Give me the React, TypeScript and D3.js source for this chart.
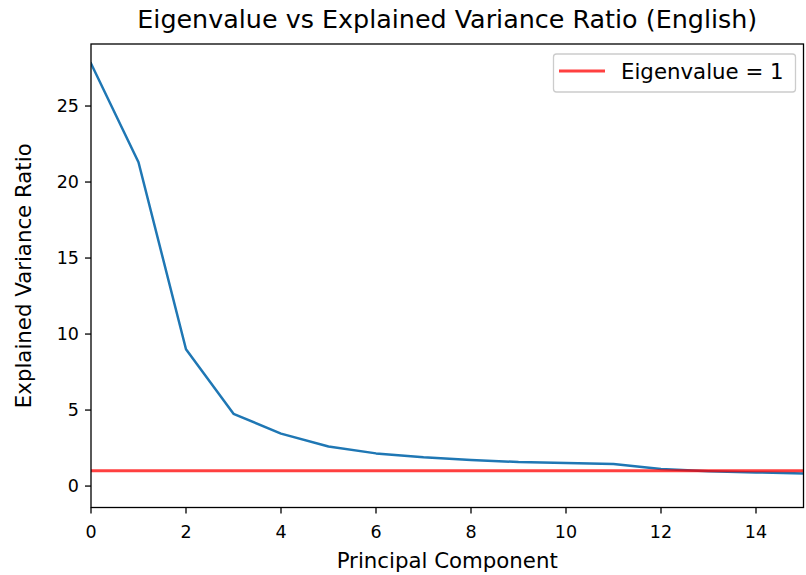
import React from "react";
import * as d3 from "d3";

const components = [0, 1, 2, 3, 4, 5, 6, 7, 8, 9, 10, 11, 12, 13, 14, 15];
const varianceRatio = [27.8, 21.3, 9.0, 4.75, 3.45, 2.6, 2.15, 1.9, 1.72, 1.58, 1.52, 1.45, 1.12, 0.98, 0.9, 0.82];
const xTicks = [0, 2, 4, 6, 8, 10, 12, 14];
const yTicks = [0, 5, 10, 15, 20, 25];
const threshold = 1;

const W = 806;
const H = 575;
const M = { left: 91, right: 806 - 803.5, top: 44, bottom: 575 - 507.5 };
const FONT = "'DejaVu Sans', sans-serif";

export default function App() {
  const x = d3.scaleLinear().domain([0, 15]).range([M.left, W - M.right]);
  const y = d3.scaleLinear().domain([-1.41, 29.08]).range([H - M.bottom, M.top]);
  const line = d3
    .line<number>()
    .x((_, i) => x(components[i]))
    .y((d) => y(d));
  const x0 = M.left;
  const x1 = W - M.right;
  const y0 = H - M.bottom;
  const y1 = M.top;
  return (
    <svg width={W} height={H} style={{ position: "absolute", left: 0, top: 0, background: "#fff" }}>
      <defs>
        <clipPath id="plot">
          <rect x={x0} y={y1} width={x1 - x0} height={y0 - y1} />
        </clipPath>
      </defs>
      <rect x={0} y={0} width={W} height={H} fill="#fff" />
      <g clipPath="url(#plot)">
        <path d={line(varianceRatio) || ""} fill="none" stroke="#1f77b4" strokeWidth={2.5} strokeLinejoin="round" strokeLinecap="square" />
        <line x1={x0} x2={x1} y1={y(threshold)} y2={y(threshold)} stroke="#ff0000" strokeOpacity={0.75} strokeWidth={3} />
      </g>
      <rect x={x0} y={y1} width={x1 - x0} height={y0 - y1} fill="none" stroke="#000" strokeWidth={1.3} />
      {xTicks.map((t) => (
        <g key={"x" + t}>
          <line x1={x(t)} x2={x(t)} y1={y0} y2={y0 + 6} stroke="#000" strokeWidth={1.3} />
          <text x={x(t)} y={538} textAnchor="middle" fontFamily={FONT} fontSize={17.5} fill="#000">
            {t}
          </text>
        </g>
      ))}
      {yTicks.map((t) => (
        <g key={"y" + t}>
          <line x1={x0 - 6} x2={x0} y1={y(t)} y2={y(t)} stroke="#000" strokeWidth={1.3} />
          <text x={x0 - 12} y={y(t)} dy="0.36em" textAnchor="end" fontFamily={FONT} fontSize={17.5} fill="#000">
            {t}
          </text>
        </g>
      ))}
      <text x={(x0 + x1) / 2} y={568} textAnchor="middle" fontFamily={FONT} fontSize={21.3} fill="#000">
        Principal Component
      </text>
      <text
        transform={`translate(31,${(y0 + y1) / 2}) rotate(-90)`}
        textAnchor="middle"
        fontFamily={FONT}
        fontSize={21.3}
        fill="#000"
      >
        Explained Variance Ratio
      </text>
      <text x={(x0 + x1) / 2} y={28} textAnchor="middle" fontFamily={FONT} fontSize={25.4} fill="#000">
        Eigenvalue vs Explained Variance Ratio (English)
      </text>
      <g>
        <rect x={553.5} y={54} width={242} height={38} rx={3} fill="#fff" fillOpacity={0.8} stroke="#cccccc" strokeWidth={1.3} />
        <line x1={559} x2={605} y1={71} y2={71} stroke="#ff0000" strokeOpacity={0.75} strokeWidth={3} />
        <text x={621} y={71} dy="0.36em" fontFamily={FONT} fontSize={21.3} fill="#000">
          Eigenvalue = 1
        </text>
      </g>
    </svg>
  );
}
